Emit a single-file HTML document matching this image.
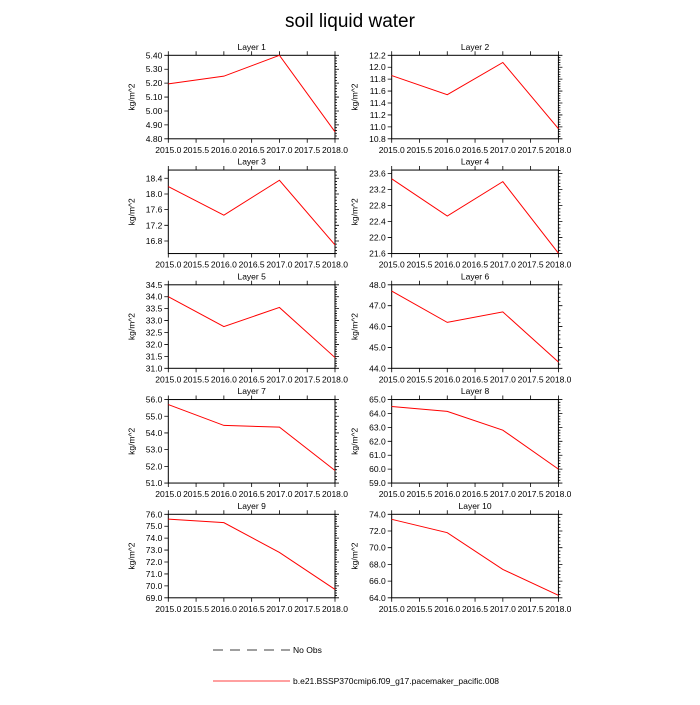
<!DOCTYPE html>
<html><head><meta charset="utf-8"><style>
body{margin:0;background:#fff;}
svg text{font-family:"Liberation Sans",sans-serif;}
</style></head><body>
<svg id="c" width="700" height="700" xmlns="http://www.w3.org/2000/svg">
<rect width="700" height="700" fill="#fff"/>
<text x="350" y="27" font-size="19" text-anchor="middle">soil liquid water</text>
<g>
<line x1="213" y1="650" x2="290" y2="650" stroke="#000" stroke-width="0.8" stroke-dasharray="10,7"/>
<text x="293" y="653" font-size="8.5">No Obs</text>
<line x1="213" y1="681" x2="290" y2="681" stroke="#f00" stroke-width="0.8"/>
<text x="293" y="684" font-size="8.5">b.e21.BSSP370cmip6.f09_g17.pacemaker_pacific.008</text>
</g>
</svg>
<script>
const years=[2015,2016,2017,2018];
const xTicks=[2015.0,2015.5,2016.0,2016.5,2017.0,2017.5,2018.0];
const layerNames=["Layer 1","Layer 2","Layer 3","Layer 4","Layer 5","Layer 6","Layer 7","Layer 8","Layer 9","Layer 10"];
const v1=[5.195,5.25,5.40,4.85];
const v2=[11.86,11.54,12.08,10.97];
const v3=[18.19,17.46,18.35,16.70];
const v4=[23.47,22.54,23.40,21.61];
const v5=[34.0,32.75,33.55,31.45];
const v6=[47.7,46.2,46.7,44.3];
const v7=[55.7,54.45,54.35,51.75];
const v8=[64.5,64.15,62.8,60.0];
const v9=[75.6,75.3,72.8,69.7];
const v10=[73.4,71.8,67.4,64.3];
const series=[v1,v2,v3,v4,v5,v6,v7,v8,v9,v10];
const yMin=[4.8,10.8,16.48,21.6,31.0,44.0,51.0,59.0,69.0,64.0];
const yMax=[5.4,12.2,18.61,23.69,34.5,48.0,56.0,65.0,76.0,74.0];
const yTicks=[
 [4.8,4.9,5.0,5.1,5.2,5.3,5.4],
 [10.8,11.0,11.2,11.4,11.6,11.8,12.0,12.2],
 [16.8,17.2,17.6,18.0,18.4],
 [21.6,22.0,22.4,22.8,23.2,23.6],
 [31.0,31.5,32.0,32.5,33.0,33.5,34.0,34.5],
 [44.0,45.0,46.0,47.0,48.0],
 [51.0,52.0,53.0,54.0,55.0,56.0],
 [59.0,60.0,61.0,62.0,63.0,64.0,65.0],
 [69.0,70.0,71.0,72.0,73.0,74.0,75.0,76.0],
 [64.0,66.0,68.0,70.0,72.0,74.0]];
const yDec=[2,1,1,1,1,1,1,1,1,1];
const NS="http://www.w3.org/2000/svg";
const svg=document.getElementById('c');
function mk(t,a,p){const e=document.createElementNS(NS,t);for(const k in a)e.setAttribute(k,a[k]);p.appendChild(e);return e;}
const colX=[168.3,391.7],W=166.7,H=83.5;
for(let i=0;i<10;i++){
 const L=colX[i%2],T=55.3+Math.floor(i/2)*114.75,R=L+W,B=T+H;
 const g=mk('g',{},svg);
 
 
 const xs=v=>L+(v-2015)/3*W;
 const ys=v=>B-(v-yMin[i])/(yMax[i]-yMin[i])*H;
 const tt=mk('text',{x:(L+R)/2,y:T-5.5,'font-size':8.5,'text-anchor':'middle'},g);tt.textContent=layerNames[i];
 
 
 const yl=mk('text',{x:0,y:0,'font-size':8.5,'text-anchor':'middle',transform:`translate(${L-34},${(T+B)/2}) rotate(-90)`},g);yl.textContent='kg/m^2';
 
 
 let d='';
 xTicks.forEach(v=>{const x=xs(v);d+=`M${x},${B}v4M${x},${T}v-4`;
  const t=mk('text',{x:x,y:B+14,'font-size':8.5,'text-anchor':'middle'},g);t.textContent=v.toFixed(1);
  
  });
 const yt=yTicks[i],st=yt[1]-yt[0];
 yt.forEach(v=>{const y=ys(v);d+=`M${L},${y}h-4M${R},${y}h4`;
  const t=mk('text',{x:L-6,y:y+3,'font-size':8.5,'text-anchor':'end'},g);t.textContent=v.toFixed(yDec[i]);
  
  });
 for(let v=yt[0]-st;v<=yMax[i]+1e-9;v+=st/5){if(v<yMin[i]-1e-9)continue;const y=ys(v);d+=`M${R},${y}h2`;}
 mk('path',{d:d,stroke:'#000','stroke-width':0.8,fill:'none'},g);
 const fr=mk('rect',{x:L,y:T,width:W,height:H,fill:'none',stroke:'#000','stroke-width':1},g);
 
 
 const pts=years.map((yr,j)=>xs(yr)+','+ys(series[i][j])).join(' ');
 const ln=mk('polyline',{points:pts,fill:'none',stroke:'#f00','stroke-width':1},g);
 
 
}
</script>
</body></html>
